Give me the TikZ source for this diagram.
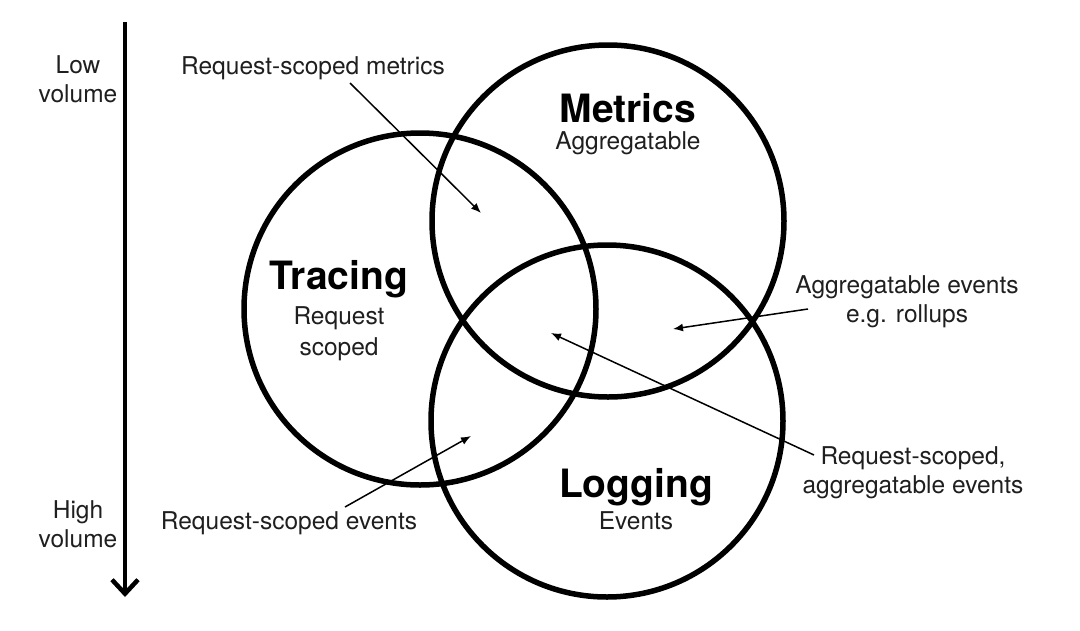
\documentclass[tikz,border=0pt]{standalone}
\usepackage{fontspec}
\setmainfont{TeX Gyre Heros}
\usetikzlibrary{arrows.meta}
\begin{document}
\begin{tikzpicture}[x=1pt,y=-1pt,
  ring/.style={circle,draw,line width=5.5pt,minimum size=352pt,inner sep=0pt},
  title/.style={font=\fontsize{39}{42}\selectfont\bfseries,inner sep=0pt},
  sub/.style={font=\fontsize{24.5}{31}\selectfont,align=center,inner sep=0pt,text=black!88},
  lbl/.style={font=\fontsize{24.5}{29}\selectfont,align=center,inner sep=0pt,text=black!88},
  pointer/.style={line width=1.5pt,-{Latex[length=10pt,width=8pt]}},
  axis/.style={line width=4.5pt,-{Straight Barb[length=14pt,width=26pt,line width=4.5pt]}}]
\useasboundingbox[fill=white] (0,0) rectangle (1080,630);
% circles
\node[ring] (tracing) at (420,309) {};
\node[ring] (metrics) at (608,221) {};
\node[ring] (logging) at (607,421) {};
% circle titles
\node[title] (ttr) at (339,279) {Tracing};
\node[sub] (str) at (339,334) {Request\\scoped};
\node[title] (tme) at (628,108) {Metrics};
\node[sub] (sme) at (628,143) {Aggregatable};
\node[title] (tlo) at (636,487) {Logging};
\node[sub] (slo) at (636,521) {Events};
% volume axis
\coordinate (atop) at (125,22);
\coordinate (abot) at (125,597);
\draw[axis] (atop) -- (abot);
\node[lbl] (low) at (78,79) {Low\\volume};
\node[lbl] (high) at (78,524) {High\\volume};
% labels
\node[lbl] (lrsm) at (313,68) {Request-scoped metrics};
\node[lbl] (lagg) at (907,302) {Aggregatable events\\e.g. rollups};
\node[lbl] (lrsa) at (913,473) {Request-scoped,\\aggregatable events};
\node[lbl] (lrse) at (289,523) {Request-scoped events};
% pointer ends
\coordinate (s1) at (350,83);  \coordinate (e1) at (481,213);
\coordinate (s2) at (808,309); \coordinate (e2) at (673,329);
\coordinate (s3) at (814,455); \coordinate (e3) at (551,333);
\coordinate (s4) at (345,507); \coordinate (e4) at (471,436);
\draw[pointer] (s1) -- (e1);
\draw[pointer] (s2) -- (e2);
\draw[pointer] (s3) -- (e3);
\draw[pointer] (s4) -- (e4);
\end{tikzpicture}
\end{document}
